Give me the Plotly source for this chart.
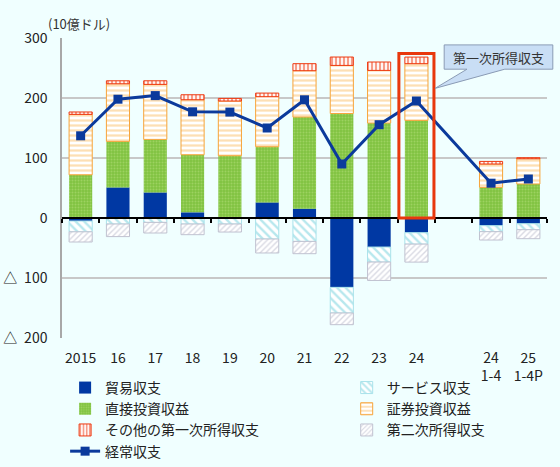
import plotly.graph_objects as go

# ---- data (billion USD) ----
categories = ["2015", "16", "17", "18", "19", "20", "21", "22", "23", "24", "24<br>1-4", "25<br>1-4P"]
slots = [0, 1, 2, 3, 4, 5, 6, 7, 8, 9, 11, 12]   # slot 10 is an empty gap
trade      = [-5, 51, 42.7, 9.4, 1.5, 26, 15.5, -115.6, -48.4, -24.5, -12.8, -9.5]
services   = [-18, -10, -7.3, -10, -10, -35, -39, -42.7, -25, -19, -10, -10]
direct     = [72, 76.7, 88.3, 96, 102.3, 92.8, 152.8, 174.2, 158.3, 162.7, 51, 56.7]
portfolio  = [100.7, 96, 91.7, 91.7, 91.2, 83.4, 77.2, 80.1, 87.7, 94.5, 39, 42.1]
other_prim = [4, 5, 6, 8.3, 4.3, 6, 11.7, 14, 14, 11, 4.3, 1.7]
secondary  = [-17, -21, -17.7, -17.8, -13.4, -23.3, -20.5, -19.5, -30.7, -30, -13.9, -15]
current    = [137, 198, 204, 177, 176.5, 150, 197, 90, 155.5, 195, 58, 65]
y_ticks = [-200, -100, 0, 100, 200, 300]
y_ticktext = ["△\u2002200", "△\u2002100", "0", "100", "200", "300"]

FONT = "Noto Sans CJK JP"
LEG_FONT = "Liberation Sans, Noto Sans CJK JP"
BG = "#f0ffff"
BW = 0.62

fig = go.Figure()

def bar(name, vals, fg, bg, shape, size, solidity, line_color, line_w, legend):
    fig.add_trace(go.Bar(
        x=slots, y=vals, name=name, width=BW, legend=legend,
        marker=dict(
            color=bg,
            line=dict(color=line_color, width=line_w),
            pattern=dict(shape=shape, fgcolor=fg, bgcolor=bg, size=size,
                         solidity=solidity) if shape else None,
        ),
        hoverinfo="skip",
    ))

bar("貿易収支", trade, "#0038a3", "#0038a3", "", 4, 0.5, "#0038a3", 0, "legend")
bar("サービス収支", services, "#6fd0dc", "#ffffff", "\\", 6, 0.4, "#a8e2ea", 1, "legend2")
bar("直接投資収益", direct, "#b9e27e", "#80c342", ".", 3, 0.35, "#80c342", 0, "legend")
bar("証券投資収益", portfolio, "#fbbf6a", "#ffffff", "-", 5, 0.45, "#f7a43a", 1, "legend2")
bar("その他の第一次所得収支", other_prim, "#ee3a12", "#ffffff", "|", 4, 0.55, "#ee3a12", 1, "legend")
bar("第二次所得収支", secondary, "#b4b6c8", "#ffffff", "/", 4, 0.35, "#c0c2d0", 1, "legend2")

fig.add_trace(go.Scatter(
    x=slots, y=current, name="経常収支", mode="lines+markers", legend="legend",
    line=dict(color="#0b3a9c", width=3),
    marker=dict(symbol="square", size=9, color="#0b3a9c"),
    hoverinfo="skip",
))

# zero-line axis with ticks at category boundaries
bounds = [i - 0.5 for i in range(14)]
y0, y1 = -200, 300
zero_pos = (0 - y0) / (y1 - y0)

leg_common = dict(
    orientation="v", yanchor="top", yref="container", y=0.2035,
    font=dict(size=14, family=LEG_FONT, color="#222222"),
    bgcolor="rgba(0,0,0,0)", traceorder="normal", itemwidth=30,
)

fig.update_layout(
    width=560, height=467,
    margin=dict(l=62, r=13, t=38, b=129),
    paper_bgcolor=BG, plot_bgcolor=BG,
    barmode="relative",
    font=dict(family=FONT, size=14, color="#222222"),
    showlegend=True,
    legend=dict(x=0.0064, xanchor="left", **leg_common),
    legend2=dict(x=0.587, xanchor="left", **leg_common),
    xaxis=dict(
        range=[-0.5, 12.5], tickmode="array", tickvals=slots, ticktext=categories,
        showgrid=False, zeroline=False, showline=False, ticks="", automargin=False,
        ticklabelstandoff=10,
        tickfont=dict(size=14, family=FONT, color="#222222"),
    ),
    xaxis2=dict(
        overlaying="x", anchor="free", position=zero_pos, side="bottom", automargin=False,
        range=[-0.5, 12.5], tickmode="array", tickvals=bounds, showticklabels=False,
        ticks="outside", ticklen=4, tickwidth=1.5, tickcolor="#000000",
        showline=True, linecolor="#000000", linewidth=2, showgrid=False, zeroline=False,
    ),
    yaxis=dict(
        range=[y0, y1], tickmode="array", tickvals=y_ticks, ticktext=y_ticktext,
        showgrid=True, gridcolor="#c8c8c8", gridwidth=1.5, zeroline=False,
        showline=True, linecolor="#a8a8a8", linewidth=1.5, ticks="", automargin=False,
        ticklabelstandoff=10,
        tickfont=dict(size=14, family=FONT, color="#222222"),
    ),
)

# invisible trace to activate xaxis2
fig.add_trace(go.Scatter(x=[None], y=[None], xaxis="x2", showlegend=False, hoverinfo="skip"))

# highlight box around latest full year
hi = 9
pos_total = max(0, trade[hi]) + direct[hi] + portfolio[hi] + other_prim[hi]
fig.add_shape(type="rect", xref="x", yref="y",
              x0=slots[hi] - 0.47, x1=slots[hi] + 0.47, y0=0, y1=pos_total + 6,
              line=dict(color="#e8380d", width=3), fillcolor="rgba(0,0,0,0)", layer="above")

# callout box
bx0, bx1, by0, by1 = 0.788, 1.012, 0.977, 0.896
fig.add_shape(type="path", xref="paper", yref="paper",
              path=f"M {bx0},{by0} L {bx1},{by0} L {bx1},{by1} L 0.913,{by1} L 0.769,0.832 L 0.835,{by1} L {bx0},{by1} Z",
              fillcolor="#c9def5", line=dict(color="#8a9bb5", width=1), layer="above")
fig.add_annotation(x=(bx0 + bx1) / 2, y=(by0 + by1) / 2, xref="paper", yref="paper",
                   xanchor="center", yanchor="middle",
                   text="第一次所得収支", showarrow=False,
                   font=dict(size=13, family=FONT, color="#333333"))

# unit label
fig.add_annotation(x=-0.033, y=1.047, xref="paper", yref="paper", xanchor="left", yanchor="middle",
                   text="(10億ドル)", showarrow=False,
                   font=dict(size=13, family=FONT, color="#333333"))

fig.write_html("out.html",
               config={"displayModeBar": False},
               post_script="document.body.style.margin='0';document.body.style.background='" + BG + "';")
